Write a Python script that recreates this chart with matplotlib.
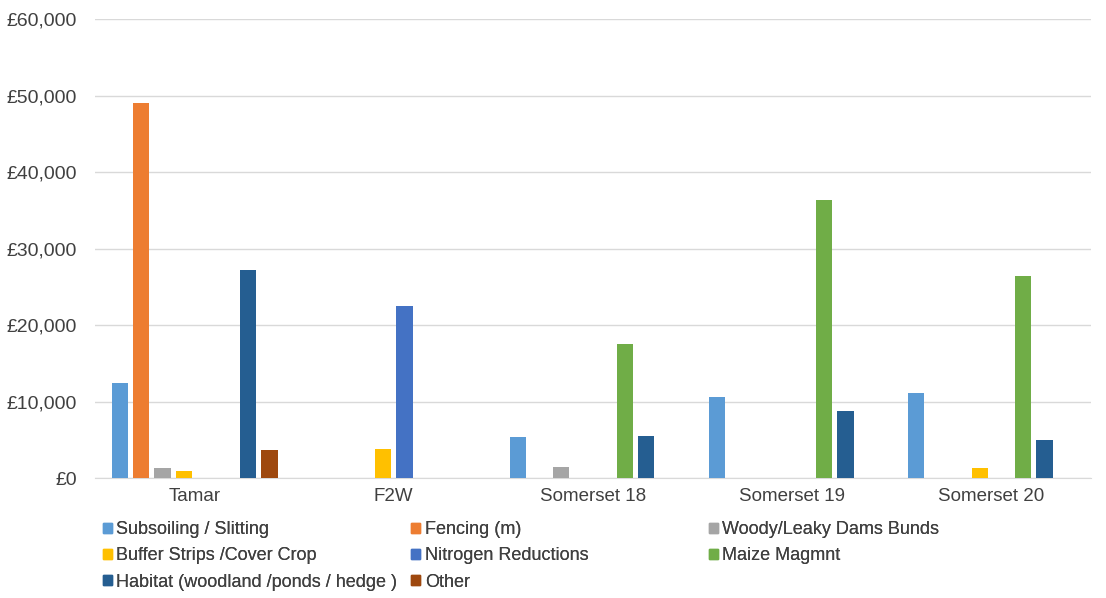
import numpy as np
import matplotlib.pyplot as plt
from matplotlib.ticker import FuncFormatter
from matplotlib.patches import Patch

plt.rcParams['font.family'] = ['Liberation Sans', 'DejaVu Sans']

sites = ["Tamar", "F2W", "Somerset 18", "Somerset 19", "Somerset 20"]
series = ["Subsoiling / Slitting", "Fencing (m)", "Woody/Leaky Dams Bunds",
          "Buffer Strips /Cover Crop", "Nitrogen Reductions", "Maize Magmnt",
          "Habitat (woodland /ponds / hedge )", "Other"]
subsoiling = [12500, 0, 5400, 10600, 11100]
fencing = [49000, 0, 0, 0, 0]
woody = [1400, 0, 1500, 0, 0]
buffer_strips = [1000, 3800, 0, 0, 1350]
nitrogen = [0, 22500, 0, 0, 0]
maize = [0, 0, 17500, 36400, 26400]
habitat = [27200, 0, 5600, 8800, 5000]
other = [3700, 0, 0, 0, 0]
colors = ["#5B9BD5", "#ED7D31", "#A5A5A5", "#FFC000", "#4472C4",
          "#70AD47", "#255E91", "#9E480E"]

values = [subsoiling, fencing, woody, buffer_strips, nitrogen, maize, habitat, other]

fig = plt.figure(figsize=(11.06, 5.98), dpi=100)
ax = fig.add_axes([0.086, 0.2, 0.9, 0.768])

x = np.arange(len(sites))
slot = 0.86 / len(series)
for i, (vals, col) in enumerate(zip(values, colors)):
    offs = (i - (len(series) - 1) / 2) * slot
    ax.bar(x + offs, vals, width=slot * 0.76, color=col, zorder=3)

ax.set_xlim(-0.5, len(sites) - 0.5)
ax.set_ylim(0, 60000)
ax.set_yticks(np.arange(0, 60001, 10000))
ax.yaxis.set_major_formatter(FuncFormatter(lambda v, p: "£{:,.0f}".format(v)))
ax.set_xticks(x)
ax.set_xticklabels(sites)
ax.grid(axis='y', color='#D9D9D9', linewidth=1, zorder=0)
for s in ["top", "right", "left"]:
    ax.spines[s].set_visible(False)
ax.spines["bottom"].set_color("#D9D9D9")
ax.tick_params(axis='both', length=0, colors='#404040')
ax.tick_params(axis='y', pad=13, labelsize=14)
ax.tick_params(axis='x', pad=7, labelsize=13.5)

handles = [Patch(color=c, label=s) for s, c in zip(series, colors)]
col_x = [0.093, 0.372, 0.641]
for j in range(3):
    hs = handles[j::3]
    leg = fig.legend(handles=hs, loc='upper left', bbox_to_anchor=(col_x[j], 0.128),
                     frameon=False, fontsize=13, handlelength=0.5, handleheight=0.5,
                     handletextpad=0.25, labelspacing=0.5, borderaxespad=0,
                     borderpad=0, labelcolor='#404040')
    fig.add_artist(leg)

plt.savefig("out.png", dpi=100)
